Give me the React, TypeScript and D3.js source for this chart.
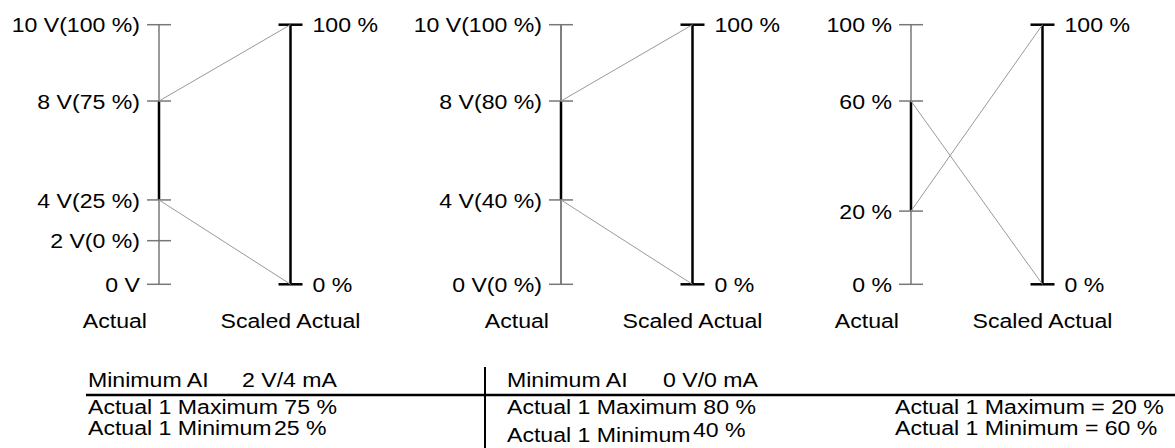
import React from "react";
import * as d3 from "d3";

// ---------- data ----------
// Actual axis tick labels and their schematic positions (0 = bottom, 10 = top)
const panel1Labels = ["0 V", "2 V(0 %)", "4 V(25 %)", "8 V(75 %)", "10 V(100 %)"];
const panel1Levels = [0, 1.68, 3.25, 7.06, 10];
const panel1MaxIdx = 3; // Actual 1 Maximum -> 100 %
const panel1MinIdx = 2; // Actual 1 Minimum -> 0 %

const panel2Labels = ["0 V(0 %)", "4 V(40 %)", "8 V(80 %)", "10 V(100 %)"];
const panel2Levels = [0, 3.25, 7.06, 10];
const panel2MaxIdx = 2;
const panel2MinIdx = 1;

const panel3Labels = ["0 %", "20 %", "60 %", "100 %"];
const panel3Levels = [0, 2.82, 7.06, 10];
const panel3MaxIdx = 1;
const panel3MinIdx = 2;

const scaledLabels = ["0 %", "100 %"];
const scaledValues = [0, 100];

const tableHeaderNames = ["Minimum AI", "Minimum AI"];
const tableHeaderValues = ["2 V/4 mA", "0 V/0 mA"];
const tableMaxRows = ["Actual 1 Maximum 75 %", "Actual 1 Maximum 80 %", "Actual 1 Maximum = 20 %"];
const tableMinNames = ["Actual 1 Minimum", "Actual 1 Minimum", "Actual 1 Minimum = 60 %"];
const tableMinValues = ["25 %", "40 %", ""];

// ---------- layout ----------
const W = 1175;
const H = 448;
const TOP = 24.7;
const BOTTOM = 284.3;
const actualXs = [159, 561, 911];
const GAP = 131.5;
const FONT = "'Liberation Sans', Arial, Helvetica, sans-serif";
const FS = 21;
const SX = 1.1;

const levelScale = d3.scaleLinear().domain([0, 10]).range([BOTTOM, TOP]);
const scaledScale = d3.scaleLinear().domain([0, 100]).range([BOTTOM, TOP]);

function T({ x, y, anchor = "start", children }: any) {
  return (
    <text
      transform={`translate(${x},${y}) scale(${SX},1)`}
      textAnchor={anchor}
      fontFamily={FONT}
      fontSize={FS}
      fill="#000"
    >
      {children}
    </text>
  );
}

function Panel({ ax, labels, levels, maxIdx, minIdx, axisColor, axisWidth }: any) {
  const sx = ax + GAP;
  const yMax = levelScale(levels[maxIdx]);
  const yMin = levelScale(levels[minIdx]);
  return (
    <g>
      {/* actual axis */}
      <line x1={ax} x2={ax} y1={levelScale(0)} y2={levelScale(10)} stroke={axisColor} strokeWidth={axisWidth} />
      <line x1={ax} x2={ax} y1={yMax} y2={yMin} stroke="#000" strokeWidth={2.5} />
      {levels.map((lv: number, i: number) => (
        <g key={i}>
          <line x1={ax - 12} x2={ax + 12} y1={levelScale(lv)} y2={levelScale(lv)} stroke="#777" strokeWidth={1.5} />
          <T x={ax - 19} y={levelScale(lv) + 7.6} anchor="end">{labels[i]}</T>
        </g>
      ))}
      {/* scaled axis */}
      <line x1={sx} x2={sx} y1={scaledScale(0)} y2={scaledScale(100)} stroke="#000" strokeWidth={2.5} />
      {scaledValues.map((v, i) => (
        <g key={i}>
          <line x1={sx - 12} x2={sx + 12} y1={scaledScale(v)} y2={scaledScale(v)} stroke="#000" strokeWidth={2.5} />
          <T x={sx + 22} y={scaledScale(v) + 7.6}>{scaledLabels[i]}</T>
        </g>
      ))}
      {/* connectors */}
      <line x1={ax} y1={yMax} x2={sx} y2={scaledScale(100)} stroke="#999" strokeWidth={1} />
      <line x1={ax} y1={yMin} x2={sx} y2={scaledScale(0)} stroke="#999" strokeWidth={1} />
      <T x={ax - 12} y={328.3} anchor="end">Actual</T>
      <T x={sx} y={328.3} anchor="middle">Scaled Actual</T>
    </g>
  );
}

export default function App() {
  const colX = [88, 507, 895];
  const headerValX = [242, 663];
  const minValX = [274, 693];
  return (
    <svg
      width={W}
      height={H}
      viewBox={`0 0 ${W} ${H}`}
      style={{ position: "absolute", left: 0, top: 0, background: "#fff" }}
    >
      <rect x={0} y={0} width={W} height={H} fill="#fff" />
      <Panel ax={actualXs[0]} labels={panel1Labels} levels={panel1Levels} maxIdx={panel1MaxIdx} minIdx={panel1MinIdx} axisColor="#808080" axisWidth={1.6} />
      <Panel ax={actualXs[1]} labels={panel2Labels} levels={panel2Levels} maxIdx={panel2MaxIdx} minIdx={panel2MinIdx} axisColor="#000" axisWidth={1} />
      <Panel ax={actualXs[2]} labels={panel3Labels} levels={panel3Levels} maxIdx={panel3MaxIdx} minIdx={panel3MinIdx} axisColor="#808080" axisWidth={1.6} />

      {/* table */}
      <line x1={86} x2={W} y1={395} y2={395} stroke="#000" strokeWidth={2.5} />
      <line x1={485} x2={485} y1={367} y2={H} stroke="#000" strokeWidth={2} />
      {tableHeaderNames.map((t, i) => (
        <g key={i}>
          <T x={colX[i]} y={386.7}>{t}</T>
          <T x={headerValX[i]} y={386.7}>{tableHeaderValues[i]}</T>
        </g>
      ))}
      {tableMaxRows.map((t, i) => (
        <T key={i} x={colX[i]} y={414.3}>{t}</T>
      ))}
      {tableMinNames.map((t, i) => (
        <g key={i}>
          <T x={colX[i]} y={i === 1 ? 442 : 434.5}>{t}</T>
          {tableMinValues[i] ? (
            <T x={minValX[i]} y={i === 1 ? 437 : 434.5}>{tableMinValues[i]}</T>
          ) : null}
        </g>
      ))}
    </svg>
  );
}
